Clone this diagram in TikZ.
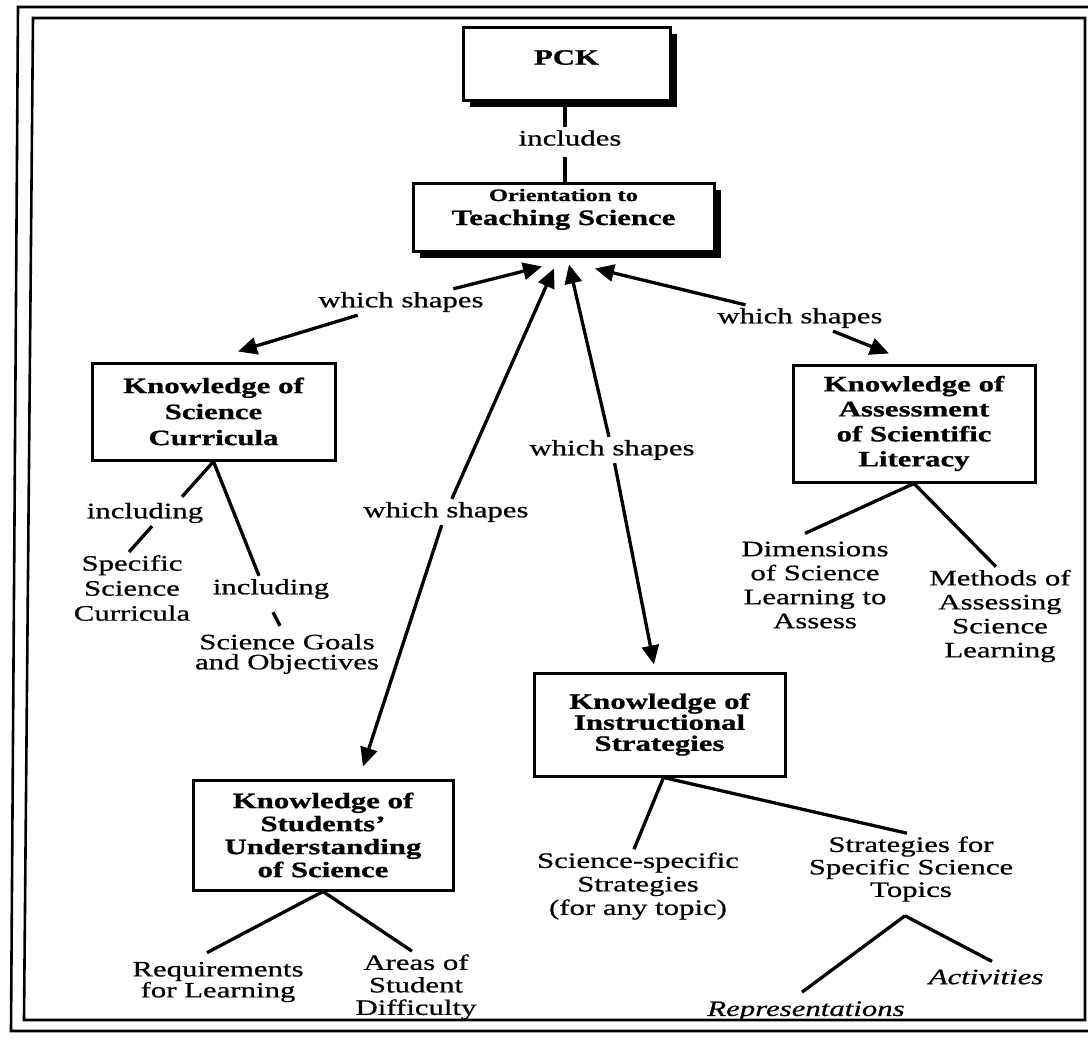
\documentclass[tikz,border=0pt]{standalone}
\usepackage{fontspec}
\setmainfont[FakeStretch=1.4,
  UprightFeatures={FakeBold=0.7},
  ItalicFeatures={FakeBold=0.7},
  BoldFeatures={FakeBold=0.9}]{Liberation Serif}
\usetikzlibrary{arrows.meta,shadows}
\begin{document}
\begin{tikzpicture}[x=1pt,y=-1pt,
  every node/.style={inner sep=3pt},
  conbox/.style={draw, line width=3pt, fill=white, align=center,
    font=\bfseries\fontsize{22}{25}\selectfont},
  topbox/.style={conbox, drop shadow={shadow xshift=7pt, shadow yshift=-7pt, fill=black, opacity=1}},
  leaf/.style={align=center, font=\fontsize{22}{24}\selectfont},
  rel/.style={font=\fontsize{22}{24}\selectfont},
  link/.style={line width=3.3pt},
  arr/.style={line width=3.3pt, -{Triangle[length=19pt,width=17pt]}},
  frame/.style={line width=2.6pt},
]
\useasboundingbox (0,0) rectangle (1088,1039);

% double frame
\draw[frame] (18,7) -- (1100,7) -- (1100,1031) -- (11,1031) -- cycle;
\draw[frame] (33,18) -- (1085,18) -- (1085,1020) -- (24,1020) -- cycle;

% top of the map
\node[topbox, minimum width=207pt, minimum height=73pt] (pck) at (566.5,63.5)
  {\raisebox{6pt}[\height][\depth]{PCK}};
\node[rel] (inc) at (570,138) {includes};
\node[topbox, minimum width=301pt, minimum height=68pt] (ori) at (563.5,217)
  {\raisebox{9pt}[\height][\depth]{\begin{tabular}{@{}c@{}}{\fontsize{17.5}{18}\selectfont Orientation to}\\[-1pt]Teaching Science\end{tabular}}};

% knowledge components
\node[conbox, minimum width=243pt, minimum height=97pt, font=\bfseries\fontsize{22}{26}\selectfont] (ksc) at (213.5,411.5)
  {Knowledge of\\Science\\Curricula};
\node[conbox, minimum width=242pt, minimum height=117pt] (kasl) at (914,423.5)
  {Knowledge of\\Assessment\\of Scientific\\Literacy};
\node[conbox, minimum width=251pt, minimum height=103pt, font=\bfseries\fontsize{22}{21}\selectfont] (kis) at (659.5,724.5)
  {Knowledge of\\Instructional\\Strategies};
\node[conbox, minimum width=260pt, minimum height=110pt, font=\bfseries\fontsize{22}{23}\selectfont] (ksu) at (323,835)
  {Knowledge of\\Students'\\Understanding\\of Science};

% link phrases
\node[rel] (ws1) at (401,302) {which shapes};
\node[rel] (ws2) at (446,512) {which shapes};
\node[rel] (ws3) at (612,450) {which shapes};
\node[rel] (ws4) at (800,318) {which shapes};
\node[rel] (inca) at (145,513) {including};
\node[rel] (incb) at (271,589) {including};

% leaf concepts
\node[leaf, font=\fontsize{22}{25}\selectfont] (ssc) at (132,588) {Specific\\Science\\Curricula};
\node[leaf, font=\fontsize{22}{20}\selectfont] (sgo) at (287,654) {Science Goals\\and Objectives};
\node[leaf] (dsla) at (815,585) {Dimensions\\of Science\\Learning to\\Assess};
\node[leaf] (masl) at (1000,616) {Methods of\\Assessing\\Science\\Learning};
\node[leaf, font=\fontsize{22}{23.5}\selectfont] (sss) at (638,886) {Science-specific\\Strategies\\(for any topic)};
\node[leaf, font=\fontsize{22}{22.5}\selectfont] (ssst) at (911,869) {Strategies for\\Specific Science\\Topics};
\node[leaf, font=\itshape\fontsize{22}{24}\selectfont] (act) at (986,977) {Activities};
\node[leaf, font=\itshape\fontsize{22}{24}\selectfont] (rep) at (806,1011) {Representations};
\node[leaf, font=\fontsize{22}{21}\selectfont] (req) at (218,982) {Requirements\\for Learning};
\node[leaf, font=\fontsize{22}{22.5}\selectfont] (area) at (416,987) {Areas of\\Student\\Difficulty};

% PCK includes orientation (vertical link through the phrase)
\draw[link] ([xshift=-1.5pt]pck.south) -- ([xshift=-1.5pt]pck.south |- inc.north);
\draw[link] ([xshift=-1.5pt,yshift=-8pt]pck.south |- inc.south) -- ([xshift=-1.5pt]pck.south |- ori.north);

% "which shapes" relations, arrowed at both ends
\draw[arr] (ws1) -- ([xshift=-21.5pt,yshift=-14pt]ori.south);
\draw[arr] (ws1) -- ([xshift=24.5pt,yshift=10pt]ksc.north);
\draw[arr] (ws2) -- ([xshift=-9.5pt,yshift=-16pt]ori.south);
\draw[arr] (ws2) -- ([xshift=40pt,yshift=12pt]ksu.north);
\draw[arr] (ws3) -- ([xshift=5.5pt,yshift=-12pt]ori.south);
\draw[arr] (ws3) -- ([xshift=-5.5pt,yshift=7pt]kis.north);
\draw[arr] (ws4) -- ([xshift=31.5pt,yshift=-16pt]ori.south);
\draw[arr] (ws4) -- ([xshift=-25pt,yshift=10pt]kasl.north);

% curricula branches
\draw[link] (ksc.south) -- ([xshift=37pt,yshift=3pt]inca.north);
\draw[link] ([xshift=7pt]inca.south) -- ([xshift=-3pt]ssc.north);
\draw[link] (ksc.south) -- ([xshift=-12pt]incb.north);
\draw[link] ([xshift=2pt,yshift=-10pt]incb.south) -- ([xshift=-7pt,yshift=5pt]sgo.north);

% assessment branches
\draw[link] (kasl.south) -- ([xshift=-10pt,yshift=5pt]dsla.north);
\draw[link] (kasl.south) -- ([xshift=-4pt]masl.north);

% instructional strategy branches
\draw[link] ([xshift=4pt]kis.south) -- ([xshift=-4pt]sss.north);
\draw[link] ([xshift=4pt]kis.south) -- ([xshift=-4pt]ssst.north);
\draw[link] ([xshift=-6pt,yshift=-11pt]ssst.south) -- ([xshift=-4pt,yshift=6pt]rep.north);
\draw[link] ([xshift=-6pt,yshift=-11pt]ssst.south) -- ([xshift=6pt,yshift=5pt]act.north);

% student understanding branches
\draw[link] (ksu.south) -- ([xshift=-11pt,yshift=6pt]req.north);
\draw[link] (ksu.south) -- ([xshift=-4pt]area.north);
\end{tikzpicture}
\end{document}
